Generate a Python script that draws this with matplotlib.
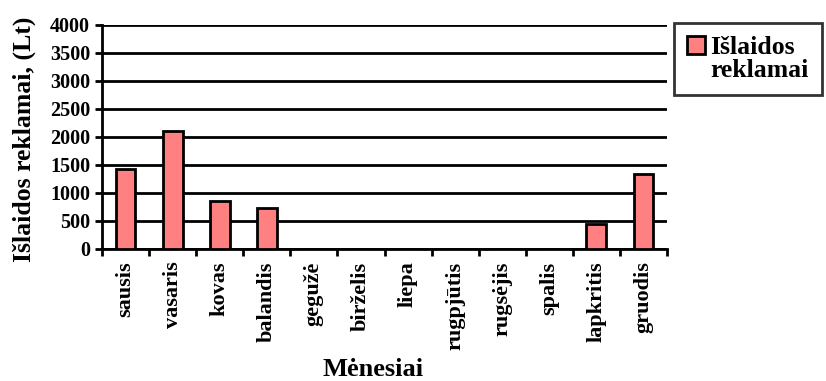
import numpy as np
import matplotlib
matplotlib.use('Agg')
import matplotlib.pyplot as plt
from matplotlib.patches import Patch

plt.rcParams['font.family'] = ['Liberation Serif', 'DejaVu Serif']
plt.rcParams['font.weight'] = 'bold'

# monthly advertising expenses
months = ['sausis', 'vasaris', 'kovas', 'balandis', 'gegužė', 'birželis',
          'liepa', 'rugpjūtis', 'rugsėjis', 'spalis', 'lapkritis', 'gruodis']
expenses = [1430, 2110, 850, 740, 0, 0, 0, 0, 0, 0, 440, 1340]
series_name = ['Išlaidos', 'reklamai']

fig = plt.figure(figsize=(8.26, 3.81), dpi=100)
ax = fig.add_axes([102 / 826, 1 - 249 / 381, 565 / 826, 224 / 381])

x = np.arange(len(months))
ax.bar(x, expenses, width=0.42, color='#FF8080', edgecolor='black',
       linewidth=2, zorder=3)

ax.set_xlim(-0.5, len(months) - 0.5)
ax.set_ylim(0, 4000)
ax.set_yticks(np.arange(0, 4001, 500))
ax.yaxis.grid(True, color='black', linewidth=2, zorder=0)

# ticks between categories, labels centred under bars
ax.set_xticks(np.arange(-0.5, len(months), 1))
ax.set_xticklabels([])
ax.set_xticks(x, minor=True)
ax.set_xticklabels(months, minor=True, rotation=90, fontsize=16,
                   fontweight='bold')
ax.tick_params(axis='x', which='minor', length=0, pad=9)
ax.tick_params(axis='both', which='major', length=5, width=2,
               direction='out', labelsize=14.5)

for side in ['top', 'right']:
    ax.spines[side].set_visible(False)
for side in ['left', 'bottom']:
    ax.spines[side].set_linewidth(2)

ax.set_ylabel('Išlaidos reklamai, (Lt)', fontsize=18.5, fontweight='bold')
ax.yaxis.set_label_coords(-0.117, 0.49)
ax.set_xlabel('Mėnesiai', fontsize=19, fontweight='bold')
ax.xaxis.set_label_coords(0.48, -0.485)

# legend: coloured square on the first line, name wraps to a second line
handles = [Patch(facecolor='#FF8080', edgecolor='black', linewidth=2),
           Patch(facecolor='none', edgecolor='none')]
leg = fig.legend(handles, series_name, loc='upper left',
                 bbox_to_anchor=(674 / 826, 1 - 23 / 381),
                 prop={'size': 18.5, 'weight': 'bold'},
                 frameon=True, fancybox=False, borderpad=0.5,
                 labelspacing=0.0,
                 handlelength=0.72, handleheight=0.72, handletextpad=0.2,
                 borderaxespad=0)
leg.get_frame().set_edgecolor('black')
leg.get_frame().set_linewidth(2)

fig.savefig('out.png', dpi=100)
